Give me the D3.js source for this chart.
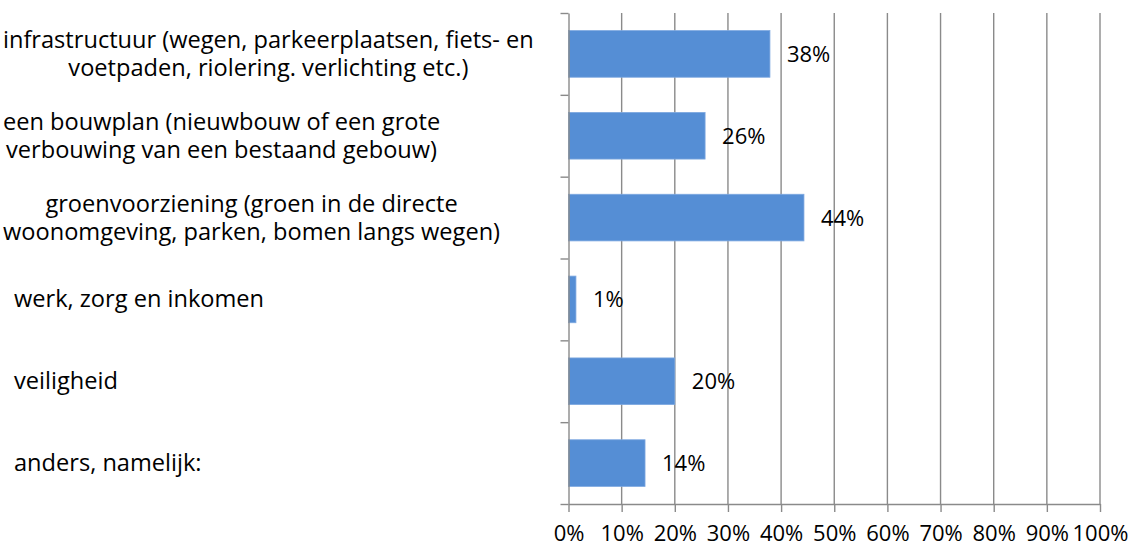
<!DOCTYPE html>
<html>
<head>
<meta charset="utf-8">
<script src="https://cdn.jsdelivr.net/npm/d3@7"></script>
<style>
  body { margin: 0; background: #fff; }
  svg text { font-family: "Open Sans", Lato, sans-serif; fill: #000; font-variant-ligatures: none; }
</style>
</head>
<body>
<div id="chart"></div>
<script>
// answer categories (line breaks as in the original chart)
const categories = [
  ["infrastructuur (wegen, parkeerplaatsen, fiets- en", "voetpaden, riolering. verlichting etc.)"],
  ["een bouwplan (nieuwbouw of een grote", "verbouwing van een bestaand gebouw)"],
  ["groenvoorziening (groen in de directe", "woonomgeving, parken, bomen langs wegen)"],
  ["werk, zorg en inkomen"],
  ["veiligheid"],
  ["anders, namelijk:"]
];
const values = [0.379, 0.257, 0.443, 0.014, 0.200, 0.144];
const xTicks = [0, 0.1, 0.2, 0.3, 0.4, 0.5, 0.6, 0.7, 0.8, 0.9, 1.0];

const width = 1132, height = 547;
const numSize = 22;   // digits
const labelSize = 23.6; // category text

const svg = d3.select("#chart").append("svg")
  .attr("width", width)
  .attr("height", height);

const x = d3.scaleLinear().domain([0, 1]).range([568.5, 1100]);
const keys = categories.map((d, i) => i);
const y = d3.scaleBand().domain(keys).range([13, 504])
  .paddingInner(0.43).paddingOuter(0.215);
// boundaries between categories, for the left axis ticks
const yEdge = d3.scaleLinear().domain([0, categories.length]).range([13, 504]);

// vertical grid lines
svg.append("g")
  .selectAll("line")
  .data(xTicks.slice(1))
  .join("line")
  .attr("x1", d => x(d)).attr("x2", d => x(d))
  .attr("y1", 13).attr("y2", 504)
  .attr("stroke", "#8a8a8a")
  .attr("stroke-width", 1.4);

// bars
svg.append("g")
  .selectAll("rect")
  .data(values)
  .join("rect")
  .attr("x", x(0))
  .attr("y", (d, i) => y(i))
  .attr("width", d => x(d) - x(0))
  .attr("height", y.bandwidth())
  .attr("fill", "#558ed5")
  .attr("stroke", "#7ea8e0")
  .attr("stroke-width", 0.8);

// x axis
const xAxis = svg.append("g")
  .attr("transform", "translate(0,504)")
  .call(d3.axisBottom(x).tickValues(xTicks).tickFormat(d3.format(".0%"))
    .tickSize(8).tickPadding(0).tickSizeOuter(0));
xAxis.select(".domain").attr("stroke", "#8a8a8a").attr("stroke-width", 1.4);
xAxis.selectAll(".tick line").attr("stroke", "#8a8a8a").attr("stroke-width", 1.4);
xAxis.selectAll(".tick text")
  .attr("y", 37).attr("dy", 0)
  .style("font-size", numSize + "px");

// y axis (ticks between categories)
const yAxis = svg.append("g")
  .attr("transform", `translate(${x(0)},0)`)
  .call(d3.axisLeft(yEdge).tickValues(d3.range(categories.length + 1))
    .tickFormat("").tickSize(8).tickSizeOuter(0));
yAxis.select(".domain").attr("stroke", "#8a8a8a").attr("stroke-width", 1.4);
yAxis.selectAll(".tick line").attr("stroke", "#8a8a8a").attr("stroke-width", 1.4);

// value labels
svg.append("g")
  .selectAll("text")
  .data(values)
  .join("text")
  .attr("x", d => x(d) + 17)
  .attr("y", (d, i) => y(i) + y.bandwidth() / 2)
  .attr("dy", "0.36em")
  .style("font-size", numSize + "px")
  .text(d => d3.format(".0%")(d));

// category labels
const lineGap = 28;
const labels = svg.append("g");
categories.forEach((lines, i) => {
  const cy = y(i) + y.bandwidth() / 2;
  const g = labels.append("g");
  const texts = g.selectAll("text")
    .data(lines)
    .join("text")
    .attr("y", (d, k) => cy + (k - (lines.length - 1) / 2) * lineGap)
    .attr("dy", "0.34em")
    .style("font-size", labelSize + "px")
    .attr("text-anchor", "middle")
    .text(d => d);
  const maxW = d3.max(texts.nodes(), n => n.getComputedTextLength());
  const left = lines.length > 1 ? 3 : 14;
  texts.attr("x", left + maxW / 2);
});
</script>
</body>
</html>
